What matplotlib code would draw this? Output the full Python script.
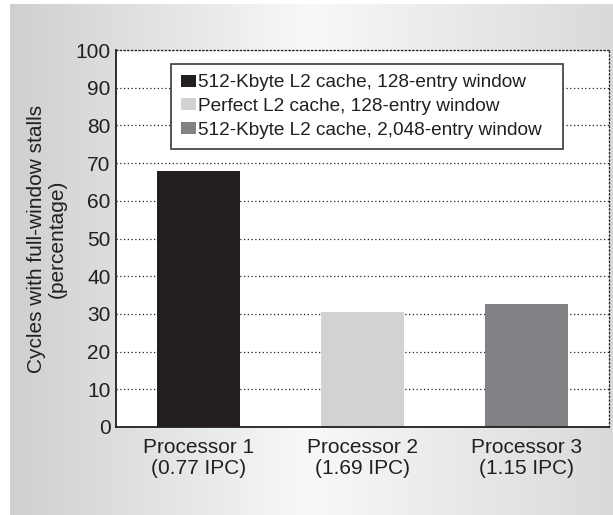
import numpy as np
import matplotlib
matplotlib.use("Agg")
import matplotlib.pyplot as plt
from matplotlib.patches import Patch

plt.rcParams['font.family'] = ['Liberation Sans', 'DejaVu Sans']

categories = ["Processor 1\n(0.77 IPC)", "Processor 2\n(1.69 IPC)", "Processor 3\n(1.15 IPC)"]
values = [68, 30.5, 32.5]
series_labels = ["512-Kbyte L2 cache, 128-entry window",
                 "Perfect L2 cache, 128-entry window",
                 "512-Kbyte L2 cache, 2,048-entry window"]
colors = ["#231f20", "#d1d2d4", "#808285"]
yticks = list(range(0, 101, 10))

W, H = 613, 515
fig = plt.figure(figsize=(W / 100, H / 100), dpi=100)

# gradient background panel
bg = fig.add_axes([10 / W, 0, 1 - 10 / W, 1 - 4 / H], zorder=-10)
xs = np.linspace(0, 1, 400)
left_c, mid_c, right_c = 0.815, 0.975, 0.855
g = np.where(xs < 0.5, left_c + (mid_c - left_c) * (xs / 0.5),
             mid_c + (right_c - mid_c) * ((xs - 0.5) / 0.5))
img = np.tile(g, (10, 1))
bg.imshow(np.dstack([img * 0.995, img * 0.998, img * 1.0]).clip(0, 1),
          aspect='auto', extent=[0, 1, 0, 1])
bg.set_axis_off()

FS = 15
ax = fig.add_axes([116 / W, 1 - 427 / H, (609 - 116) / W, (427 - 50) / H])
ax.set_facecolor('white')
x = np.arange(len(categories))
ax.bar(x, values, width=0.505, color=colors, zorder=3)
ax.set_xlim(-0.5, 2.5)
ax.set_ylim(0, 100)
ax.set_yticks(yticks)
ax.set_xticks(x)
ax.set_xticklabels(categories, fontsize=FS, color='#231f20', linespacing=1.15)
ax.tick_params(axis='y', labelsize=FS, labelcolor='#231f20', length=0, pad=4)
ax.tick_params(axis='x', length=0, pad=8)
ax.yaxis.grid(True, linestyle=(0, (1, 2)), color='#231f20', linewidth=0.9, zorder=1)
for s in ['top', 'right']:
    ax.spines[s].set_linestyle((0, (1, 2)))
    ax.spines[s].set_linewidth(0.9)
    ax.spines[s].set_color('#231f20')
for s in ['left', 'bottom']:
    ax.spines[s].set_linewidth(1.3)
    ax.spines[s].set_color('#231f20')
    ax.spines[s].set_zorder(4)

ax.set_ylabel("Cycles with full-window stalls\n(percentage)", fontsize=FS,
              color='#231f20', labelpad=6, linespacing=1.1)

x0 = (171 - 116) / (609 - 116)
wl = (563 - 171) / (609 - 116)
ytop = (427 - 64) / (427 - 50)
handles = [Patch(facecolor=c, edgecolor='none') for c in colors]
leg = ax.legend(handles, series_labels, loc='upper left', mode='expand',
                bbox_to_anchor=(x0, ytop - 0.4, wl, 0.4),
                fontsize=13.7, frameon=True, fancybox=False, framealpha=1,
                edgecolor='#3a3a3a', handlelength=0.74, handleheight=0.6,
                handletextpad=0.15, borderpad=0.55, labelspacing=0.35,
                borderaxespad=0)
leg.get_frame().set_linewidth(1.2)
for t in leg.get_texts():
    t.set_color('#231f20')
leg.set_zorder(5)

fig.savefig("out.png", dpi=100)
